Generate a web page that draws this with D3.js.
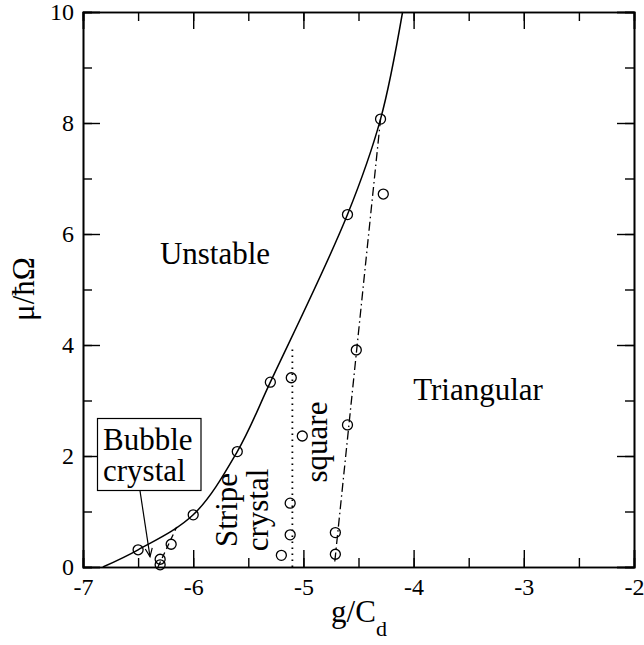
<!DOCTYPE html>
<html lang="en">
  <head>
    <meta charset="UTF-8" />
    <title>Phase diagram</title>
    <script src="https://cdn.jsdelivr.net/npm/d3@7"></script>
    <style>
      body { margin: 0; background: #fff; }
      text { font-family: "Liberation Serif", "Times New Roman", serif; fill: #000; }
    </style>
  </head>
  <body>
    <script>
      // boundary of the unstable region (solid curve + circles)
      let unstableG = [-6.5, -6.0, -5.6, -5.3, -4.6, -4.3];
      let unstableMu = [0.31, 0.94, 2.08, 3.33, 6.35, 8.07];
      let curveG = [-6.82, -6.5, -6.0, -5.6, -5.3, -4.6, -4.3, -4.1];
      let curveMu = [0, 0.31, 0.94, 2.08, 3.33, 6.35, 8.07, 10];

      // bubble / stripe boundary (dashed)
      let bubbleG = [-6.3, -6.3, -6.2];
      let bubbleMu = [0.04, 0.14, 0.41];
      let bubbleLineG = [-6.32, -6.15];
      let bubbleLineMu = [0, 0.72];

      // stripe / square boundary (dotted)
      let stripeG = [-5.2, -5.12, -5.12, -5.11, -5.01];
      let stripeMu = [0.21, 0.58, 1.15, 3.41, 2.36];
      let stripeLineG = [-5.1, -5.1];
      let stripeLineMu = [0, 4.0];

      // square / triangular boundary (dash-dot)
      let squareG = [-4.71, -4.71, -4.6, -4.52, -4.275];
      let squareMu = [0.23, 0.62, 2.56, 3.91, 6.72];
      let squareLineG = [-4.715, -4.3];
      let squareLineMu = [0.1, 8.07];

      let xTicks = [-7, -6, -5, -4, -3, -2];
      let yTicks = [0, 2, 4, 6, 8, 10];

      let width = 644, height = 645;
      let pLeft = 83, pTop = 12, pRight = 634, pBottom = 567;

      let x = d3.scaleLinear().domain([-7, -2]).range([pLeft, pRight]);
      let y = d3.scaleLinear().domain([0, 10]).range([pBottom, pTop]);

      let svg = d3
        .select("body")
        .append("svg")
        .attr("width", width)
        .attr("height", height);

      let zip = (a, b) => a.map((v, i) => [v, b[i]]);
      let line = d3.line().x((d) => x(d[0])).y((d) => y(d[1]));
      let plain = (d) => String(d); // hyphen minus like the original

      // frame + inward ticks on all sides
      let xMinor = d3.range(-7, -2.01, 0.5);
      let yMinor = d3.range(0, 10.01, 1);
      svg
        .append("g")
        .attr("transform", `translate(0,${pBottom})`)
        .call(d3.axisBottom(x).tickValues(xMinor).tickSize(-9).tickFormat(""));
      svg
        .append("g")
        .attr("class", "xlab")
        .attr("transform", `translate(0,${pBottom})`)
        .call(d3.axisBottom(x).tickValues(xTicks).tickSize(-17).tickPadding(10).tickFormat(plain));
      svg
        .append("g")
        .attr("transform", `translate(0,${pTop})`)
        .call(d3.axisTop(x).tickValues(xMinor).tickSize(-9).tickFormat(""));
      svg
        .append("g")
        .attr("transform", `translate(0,${pTop})`)
        .call(d3.axisTop(x).tickValues(xTicks).tickSize(-17).tickFormat(""));
      svg
        .append("g")
        .attr("transform", `translate(${pLeft},0)`)
        .call(d3.axisLeft(y).tickValues(yMinor).tickSize(-9).tickFormat(""));
      svg
        .append("g")
        .attr("transform", `translate(${pLeft},0)`)
        .call(d3.axisLeft(y).tickValues(yTicks).tickSize(-17).tickPadding(9).tickFormat(plain));
      svg
        .append("g")
        .attr("transform", `translate(${pRight},0)`)
        .call(d3.axisRight(y).tickValues(yMinor).tickSize(-9).tickFormat(""));
      svg
        .append("g")
        .attr("transform", `translate(${pRight},0)`)
        .call(d3.axisRight(y).tickValues(yTicks).tickSize(-17).tickFormat(""));

      svg
        .selectAll("g")
        .attr("font-family", '"Liberation Serif", "Times New Roman", serif')
        .attr("font-size", 24);
      svg.selectAll(".domain").attr("stroke", "#000").attr("stroke-width", 1.6);
      svg.selectAll(".tick line").attr("stroke", "#000").attr("stroke-width", 1.4);
      svg.selectAll(".tick text").attr("fill", "#000");
      // x labels sit with their baseline at 595
      svg.selectAll(".xlab .tick text").attr("y", 28).attr("dy", "0");

      // lines
      svg
        .append("path")
        .datum(zip(curveG, curveMu))
        .attr("fill", "none")
        .attr("stroke", "#000")
        .attr("stroke-width", 1.5)
        .attr("d", line.curve(d3.curveCatmullRom));
      line.curve(d3.curveLinear);
      svg
        .append("path")
        .datum(zip(bubbleLineG, bubbleLineMu))
        .attr("fill", "none")
        .attr("stroke", "#000")
        .attr("stroke-width", 1.3)
        .attr("stroke-dasharray", "6,4")
        .attr("d", line);
      svg
        .append("path")
        .datum(zip(stripeLineG, stripeLineMu))
        .attr("fill", "none")
        .attr("stroke", "#000")
        .attr("stroke-width", 1.8)
        .attr("stroke-dasharray", "1.6,4.4")
        .attr("d", line);
      svg
        .append("path")
        .datum(zip(squareLineG, squareLineMu))
        .attr("fill", "none")
        .attr("stroke", "#000")
        .attr("stroke-width", 1.3)
        .attr("stroke-dasharray", "9,3.5,1.5,3.5")
        .attr("d", line);

      // circles
      let pts = zip(unstableG, unstableMu)
        .concat(zip(bubbleG, bubbleMu))
        .concat(zip(stripeG, stripeMu))
        .concat(zip(squareG, squareMu));
      svg
        .selectAll("circle")
        .data(pts)
        .enter()
        .append("circle")
        .attr("cx", (d) => x(d[0]))
        .attr("cy", (d) => y(d[1]))
        .attr("r", 5)
        .attr("fill", "none")
        .attr("stroke", "#000")
        .attr("stroke-width", 1.3);

      // region labels
      svg.append("text").attr("x", 215).attr("y", 264).attr("text-anchor", "middle")
        .style("font-size", "31px").text("Unstable");
      svg.append("text").attr("x", 478).attr("y", 400).attr("text-anchor", "middle")
        .style("font-size", "31px").text("Triangular");
      svg.append("text").attr("transform", "translate(327,442) rotate(-90)").attr("text-anchor", "middle")
        .style("font-size", "31px").text("square");
      svg.append("text").attr("transform", "translate(237,510) rotate(-90)").attr("text-anchor", "middle")
        .style("font-size", "31px").text("Stripe");
      svg.append("text").attr("transform", "translate(268,510) rotate(-90)").attr("text-anchor", "middle")
        .style("font-size", "31px").text("crystal");

      // bubble crystal box + arrow
      svg.append("rect").attr("x", 97.5).attr("y", 418.5).attr("width", 103.5).attr("height", 72)
        .attr("fill", "#fff").attr("stroke", "#000").attr("stroke-width", 1.2);
      svg.append("text").attr("x", 103).attr("y", 450).style("font-size", "31px").text("Bubble");
      svg.append("text").attr("x", 103).attr("y", 481).style("font-size", "31px").text("crystal");
      let arrowG = [-6.483, -6.392];
      let arrowMu = [1.375, 0.186];
      let a0 = [x(arrowG[0]), y(arrowMu[0])], a1 = [x(arrowG[1]), y(arrowMu[1])];
      let ang = Math.atan2(a1[1] - a0[1], a1[0] - a0[0]);
      svg.append("line").attr("x1", a0[0]).attr("y1", a0[1]).attr("x2", a1[0]).attr("y2", a1[1])
        .attr("stroke", "#000").attr("stroke-width", 1.2);
      svg.append("path")
        .attr("d", `M${a1[0] - 9 * Math.cos(ang - 0.4)},${a1[1] - 9 * Math.sin(ang - 0.4)}L${a1[0]},${a1[1]}L${a1[0] - 9 * Math.cos(ang + 0.4)},${a1[1] - 9 * Math.sin(ang + 0.4)}`)
        .attr("fill", "none").attr("stroke", "#000").attr("stroke-width", 1.2);

      // axis titles
      let xt = svg.append("text").attr("x", 359).attr("y", 622).attr("text-anchor", "middle")
        .style("font-size", "31px");
      xt.append("tspan").text("g/C");
      xt.append("tspan").attr("dy", 14).style("font-size", "22px").text("d");
      svg.append("text").attr("transform", "translate(34,289) rotate(-90)").attr("text-anchor", "middle")
        .style("font-size", "31px").text("μ/ħΩ");
    </script>
  </body>
</html>
